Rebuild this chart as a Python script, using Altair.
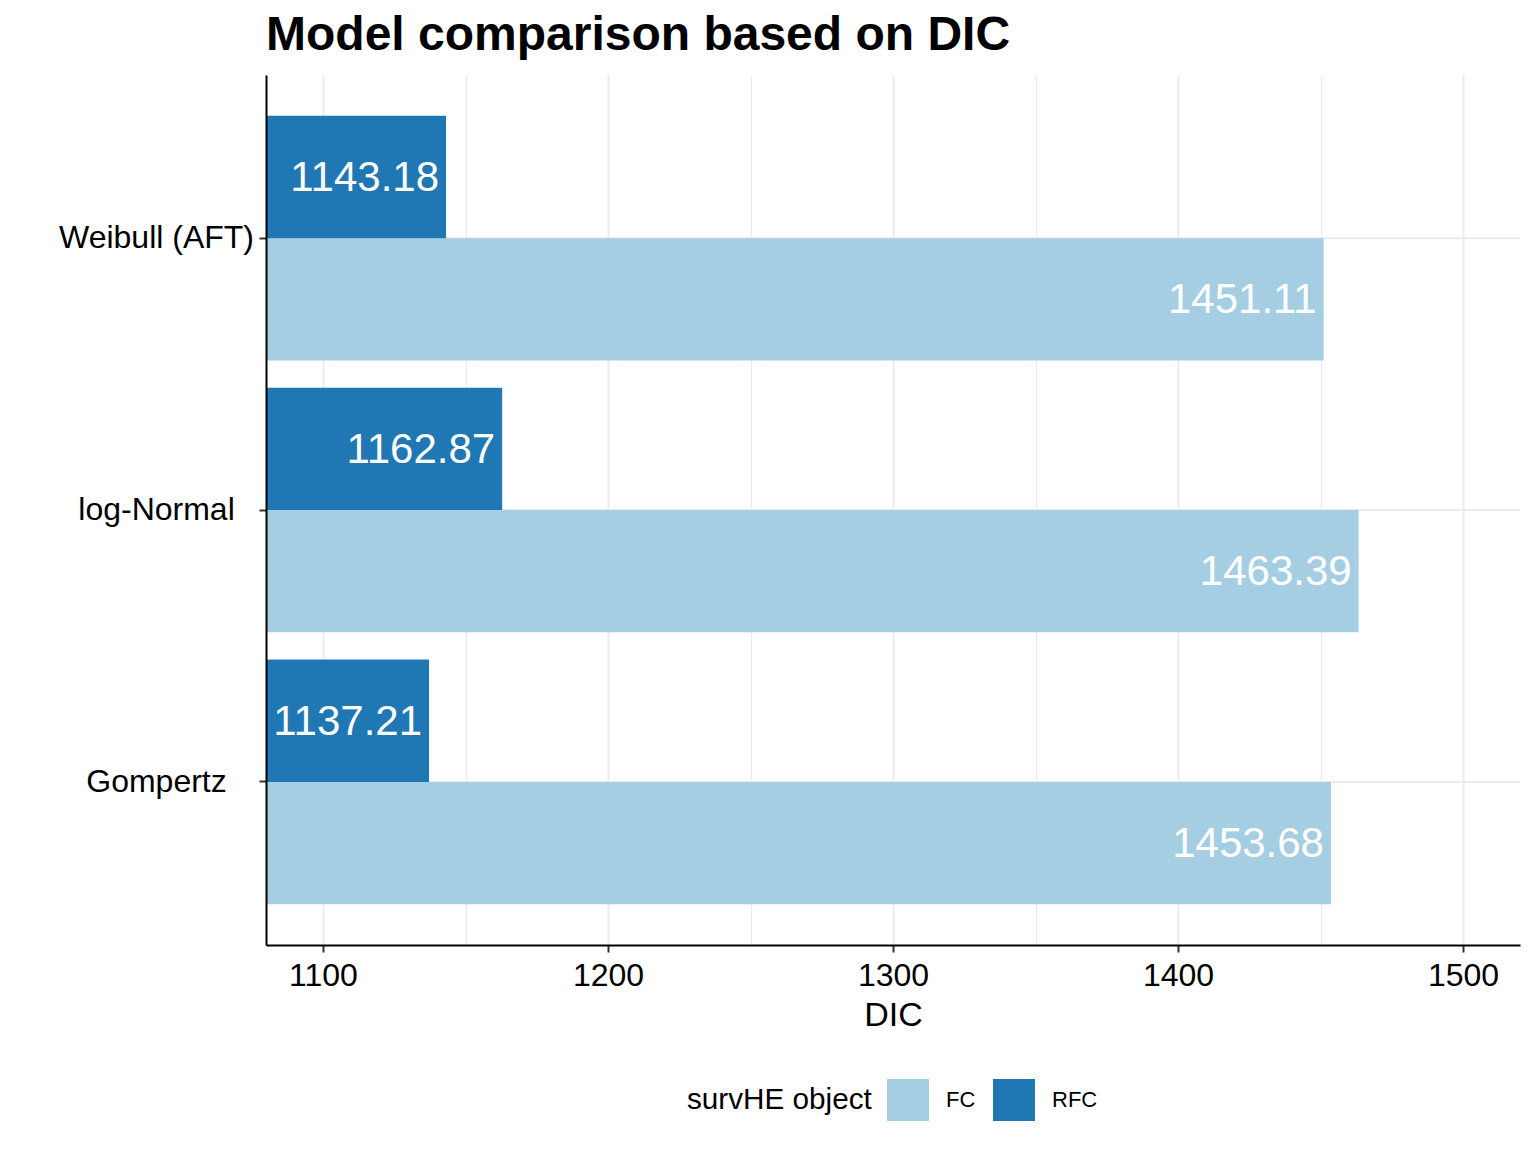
import altair as alt
import pandas as pd

models = ["Weibull (AFT)", "log-Normal", "Gompertz"]
fc_values = [1451.11, 1463.39, 1453.68]
rfc_values = [1143.18, 1162.87, 1137.21]
groups = ["FC", "RFC"]
group_colors = ["#A6CEE3", "#1F78B4"]
x_ticks = [1100, 1150, 1200, 1250, 1300, 1350, 1400, 1450, 1500]
x_min, x_max = 1080, 1520

rows = []
for m, f, r in zip(models, fc_values, rfc_values):
    rows.append({"model": m, "obj": "FC", "dic": f})
    rows.append({"model": m, "obj": "RFC", "dic": r})
df = pd.DataFrame(rows)
df_models = pd.DataFrame({"model": models})

FONT = "Liberation Sans"
major = "datum.value % 100 == 0"

y_scale = alt.Scale(domain=models, paddingInner=0.1, paddingOuter=0.15)

y_enc = alt.Y(
    "model:N", sort=models, title=None, scale=y_scale,
    axis=alt.Axis(
        grid=False, bandPosition=0.5, zindex=1,
        domainColor="black", domainWidth=2,
        tickColor="#333333", tickWidth=2, tickSize=7,
        labelAlign="center", labelBaseline="middle", labelPadding=103,
        labelFontSize=32, labelColor="black", labelFont=FONT, labelLimit=400,
    ),
)
yoff = alt.YOffset("obj:N", sort=["RFC", "FC"],
                   scale=alt.Scale(paddingInner=0, paddingOuter=0))
x_enc = alt.X(
    "dic:Q", title="DIC",
    scale=alt.Scale(domain=[x_min, x_max], nice=False, zero=False),
    axis=alt.Axis(
        values=x_ticks, format="d",
        labelExpr="datum.value % 100 == 0 ? datum.label : ''",
        grid=True, gridColor="#EBEBEB",
        gridWidth={"condition": {"test": major, "value": 2}, "value": 1.2},
        domainColor="black", domainWidth=2,
        tickColor="#333333", tickWidth=2, tickSize=7,
        tickOpacity={"condition": {"test": major, "value": 1}, "value": 0},
        labelFontSize=32, labelColor="black", labelFont=FONT, labelPadding=8,
        labelFlush=False,
        titleFontSize=34, titleFontWeight="normal", titleColor="black",
        titleFont=FONT, titlePadding=7,
    ),
)

color_enc = alt.Color(
    "obj:N",
    scale=alt.Scale(domain=groups, range=group_colors),
    legend=alt.Legend(
        title="survHE object", orient="none", legendX=421, legendY=1004,
        direction="horizontal", titleOrient="left",
        titleFontSize=29.7, titleFontWeight="normal", titleColor="black",
        titleFont=FONT, titlePadding=15, titleBaseline="middle",
        titleLimit=400,
        labelFontSize=22, labelColor="black", labelFont=FONT,
        labelOffset=17, columnPadding=17,
        symbolType="square", symbolSize=1764, symbolStrokeWidth=0,
        symbolOpacity=1,
    ),
)

hgrid = alt.Chart(df_models).mark_rule(color="#EBEBEB", strokeWidth=2).encode(
    y=alt.Y("model:N", sort=models, scale=y_scale, title=None),
    x=alt.value(0), x2=alt.value(1254),
)

base = alt.Chart(df)
bars = base.mark_bar().encode(
    x=x_enc, x2=alt.datum(x_min), y=y_enc, yOffset=yoff, color=color_enc,
)
labels = base.mark_text(
    align="right", baseline="middle", dx=-7, dy=1, color="white",
    fontSize=42, font=FONT,
).encode(
    x=alt.X("dic:Q"), y=alt.Y("model:N", sort=models), yOffset=yoff,
    text=alt.Text("dic:Q", format=".2f"),
)

chart = (
    alt.layer(hgrid, bars, labels)
    .properties(
        width=1254, height=870,
        title=alt.TitleParams(
            "Model comparison based on DIC", anchor="start", frame="group",
            fontSize=48, fontWeight="bold", font=FONT, color="black",
            offset=15,
        ),
        autosize=alt.AutoSizeParams(type="none"),
        padding={"left": 258, "top": 67, "right": 8, "bottom": 200},
    )
    .configure(font=FONT, background="white")
    .configure_view(stroke=None)
)

chart.save("out.html", embed_options={"renderer": "svg", "actions": False})
